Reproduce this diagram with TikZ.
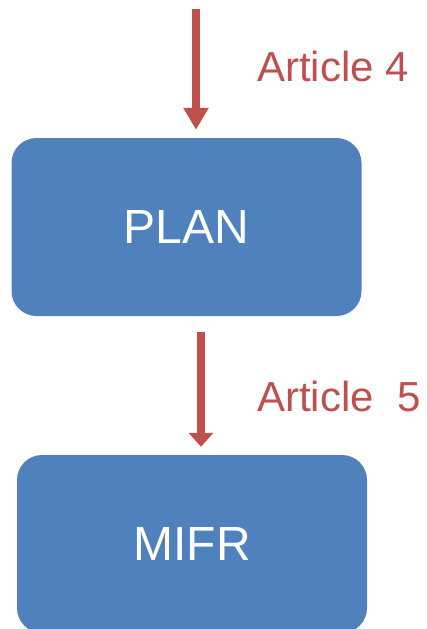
\documentclass[tikz,border=0pt]{standalone}
\usepackage{fontspec}
\setmainfont{Liberation Sans}
\usetikzlibrary{arrows.meta}
\definecolor{boxblue}{HTML}{4F81BD}
\definecolor{artred}{HTML}{C0504D}

\begin{document}
\begin{tikzpicture}
	[x=1pt, y=-1pt,
	stage/.style={fill = boxblue, rounded corners = 25pt, minimum width = 350pt, minimum height = 178pt, text = white, font = \fontsize{48}{58}\selectfont},
	article/.style={anchor = base west, text = artred, inner sep = 0pt, font = \fontsize{42}{50}\selectfont},
	flow/.style={artred, line width = 8pt, shorten >= 8pt}]
	\useasboundingbox (0, 0) rectangle (426, 629);

	\node[stage] (plan) at (186.5, 227) {PLAN};
	\node[stage] (mifr) at (192, 544) {MIFR};

	\coordinate (a4) at (196, 9);
	\draw[flow, -{Triangle[width=24pt, length=22pt]}] (a4) -- (a4 |- plan.north);
	\node[article] (art4) at (257, 81) {Article 4};

	\coordinate (a5) at (201, 332);
	\draw[flow, -{Triangle[width=24pt, length=14pt]}] (a5) -- (a5 |- mifr.north);
	\node[article] (art5) at (257, 411) {Article\ \ 5};
\end{tikzpicture}
\end{document}
